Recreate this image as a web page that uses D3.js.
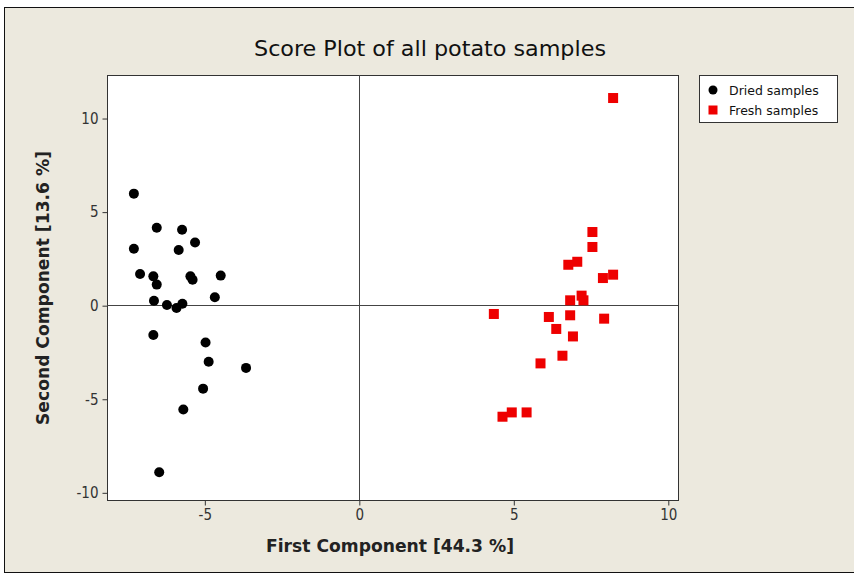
<!DOCTYPE html>
<html>
<head>
<meta charset="utf-8">
<script src="https://cdn.jsdelivr.net/npm/d3@7"></script>
<style>
  html, body { margin: 0; padding: 0; background: #ffffff; }
  svg { display: block; }
</style>
</head>
<body>
<div id="chart"></div>
<script>
// PCA scores: first and second component for each potato sample
const driedX = [-7.28, -6.54, -5.72, -5.30, -7.28, -5.83, -7.08, -6.65, -6.54, -5.45, -5.38, -4.47,
                -6.63, -6.21, -5.90, -5.71, -4.66, -6.65, -4.96, -4.86, -3.65, -5.04, -5.68, -6.46];
const driedY = [5.96, 4.14, 4.03, 3.35, 3.02, 2.95, 1.67, 1.54, 1.10, 1.54, 1.36, 1.58,
                0.24, 0.01, -0.15, 0.08, 0.42, -1.59, -1.99, -3.02, -3.35, -4.46, -5.57, -8.93];
const freshX = [8.23, 7.56, 7.56, 7.07, 6.78, 7.90, 8.23, 7.21, 7.27, 6.84, 4.37, 6.15, 6.84,
                7.94, 6.39, 6.93, 6.59, 5.88, 5.43, 4.95, 4.65];
const freshY = [11.07, 3.91, 3.11, 2.32, 2.16, 1.45, 1.63, 0.51, 0.26, 0.26, -0.47, -0.63, -0.54,
                -0.72, -1.27, -1.67, -2.70, -3.11, -5.73, -5.73, -5.96];
const xTicks = [-5, 0, 5, 10];
const yTicks = [-10, -5, 0, 5, 10];
const seriesNames = ["Dried samples", "Fresh samples"];
const seriesColors = ["#000000", "#ee0000"];

const W = 854, H = 574;
const plot = { left: 107, right: 678, top: 75, bottom: 500 };

const svg = d3.select("#chart").append("svg")
  .attr("width", W).attr("height", H);

// Window background and frame
svg.append("rect").attr("x", 0).attr("y", 0).attr("width", W).attr("height", H).attr("fill", "#ffffff");
svg.append("rect").attr("x", 4.5).attr("y", 7.5).attr("width", W + 10).attr("height", 565)
  .attr("fill", "#ece9de").attr("stroke", "#111").attr("stroke-width", 1);

const x = d3.scaleLinear().domain([-8.15, 10.33]).range([plot.left, plot.right]);
const y = d3.scaleLinear().domain([-10.41, 12.3]).range([plot.bottom, plot.top]);

// Plot area
svg.append("rect")
  .attr("x", plot.left + 0.5).attr("y", plot.top + 0.5)
  .attr("width", plot.right - plot.left).attr("height", plot.bottom - plot.top)
  .attr("fill", "#ffffff").attr("stroke", "#333").attr("stroke-width", 1);

// Reference lines at zero
svg.append("line")
  .attr("x1", plot.left).attr("x2", plot.right)
  .attr("y1", Math.round(y(0)) + 0.5).attr("y2", Math.round(y(0)) + 0.5)
  .attr("stroke", "#444").attr("stroke-width", 1);
svg.append("line")
  .attr("y1", plot.top).attr("y2", plot.bottom)
  .attr("x1", Math.round(x(0)) + 0.5).attr("x2", Math.round(x(0)) + 0.5)
  .attr("stroke", "#444").attr("stroke-width", 1);

const condFont = "'DejaVu Sans Condensed', 'DejaVu Sans', sans-serif";
const plainNum = d => String(d);

// Axes
const xAxis = svg.append("g")
  .attr("transform", `translate(0.5,${plot.bottom + 0.5})`)
  .call(d3.axisBottom(x).tickValues(xTicks).tickFormat(plainNum).tickSize(5).tickPadding(4).tickSizeOuter(0));
const yAxis = svg.append("g")
  .attr("transform", `translate(${plot.left + 0.5},0.5)`)
  .call(d3.axisLeft(y).tickValues(yTicks).tickFormat(plainNum).tickSize(5).tickPadding(4).tickSizeOuter(0));
[xAxis, yAxis].forEach(g => {
  g.select(".domain").remove();
  g.selectAll(".tick line").attr("stroke", "#333");
  g.selectAll(".tick text")
    .attr("fill", "#333")
    .style("font-family", condFont)
    .style("font-size", "15px");
});

// Title and axis titles
svg.append("text")
  .attr("x", 430).attr("y", 56)
  .attr("text-anchor", "middle")
  .attr("textLength", 352).attr("lengthAdjust", "spacingAndGlyphs")
  .style("font-family", condFont)
  .style("font-size", "22px")
  .attr("fill", "#111")
  .text("Score Plot of all potato samples");

svg.append("text")
  .attr("x", 390).attr("y", 552)
  .attr("text-anchor", "middle")
  .attr("textLength", 248).attr("lengthAdjust", "spacingAndGlyphs")
  .style("font-family", condFont)
  .style("font-size", "18px")
  .style("font-weight", "bold")
  .attr("fill", "#222")
  .text("First Component [44.3 %]");

svg.append("text")
  .attr("transform", "translate(49,288) rotate(-90)")
  .attr("text-anchor", "middle")
  .attr("textLength", 274).attr("lengthAdjust", "spacingAndGlyphs")
  .style("font-family", condFont)
  .style("font-size", "18px")
  .style("font-weight", "bold")
  .attr("fill", "#222")
  .text("Second Component [13.6 %]");

// Markers
const dried = driedX.map((v, i) => ({ x: v, y: driedY[i] }));
const fresh = freshX.map((v, i) => ({ x: v, y: freshY[i] }));

svg.append("g").selectAll("circle").data(dried).join("circle")
  .attr("cx", d => x(d.x)).attr("cy", d => y(d.y))
  .attr("r", 5).attr("fill", seriesColors[0]);

const sq = 10;
svg.append("g").selectAll("rect").data(fresh).join("rect")
  .attr("x", d => x(d.x) - sq / 2).attr("y", d => y(d.y) - sq / 2)
  .attr("width", sq).attr("height", sq).attr("fill", seriesColors[1]);

// Legend
const lg = svg.append("g");
lg.append("rect").attr("x", 699.5).attr("y", 75.5).attr("width", 138).attr("height", 47)
  .attr("fill", "#ffffff").attr("stroke", "#333");
seriesNames.forEach((name, i) => {
  const cy = 90 + i * 20;
  if (i === 0) {
    lg.append("circle").attr("cx", 713).attr("cy", cy).attr("r", 4.5).attr("fill", seriesColors[0]);
  } else {
    lg.append("rect").attr("x", 708.5).attr("y", cy - 4.5).attr("width", 9).attr("height", 9)
      .attr("fill", seriesColors[1]);
  }
  lg.append("text").attr("x", 729).attr("y", cy + 4.5)
    .style("font-family", "'DejaVu Sans', sans-serif")
    .style("font-size", "12.5px")
    .attr("fill", "#111")
    .text(name);
});
</script>
</body>
</html>
